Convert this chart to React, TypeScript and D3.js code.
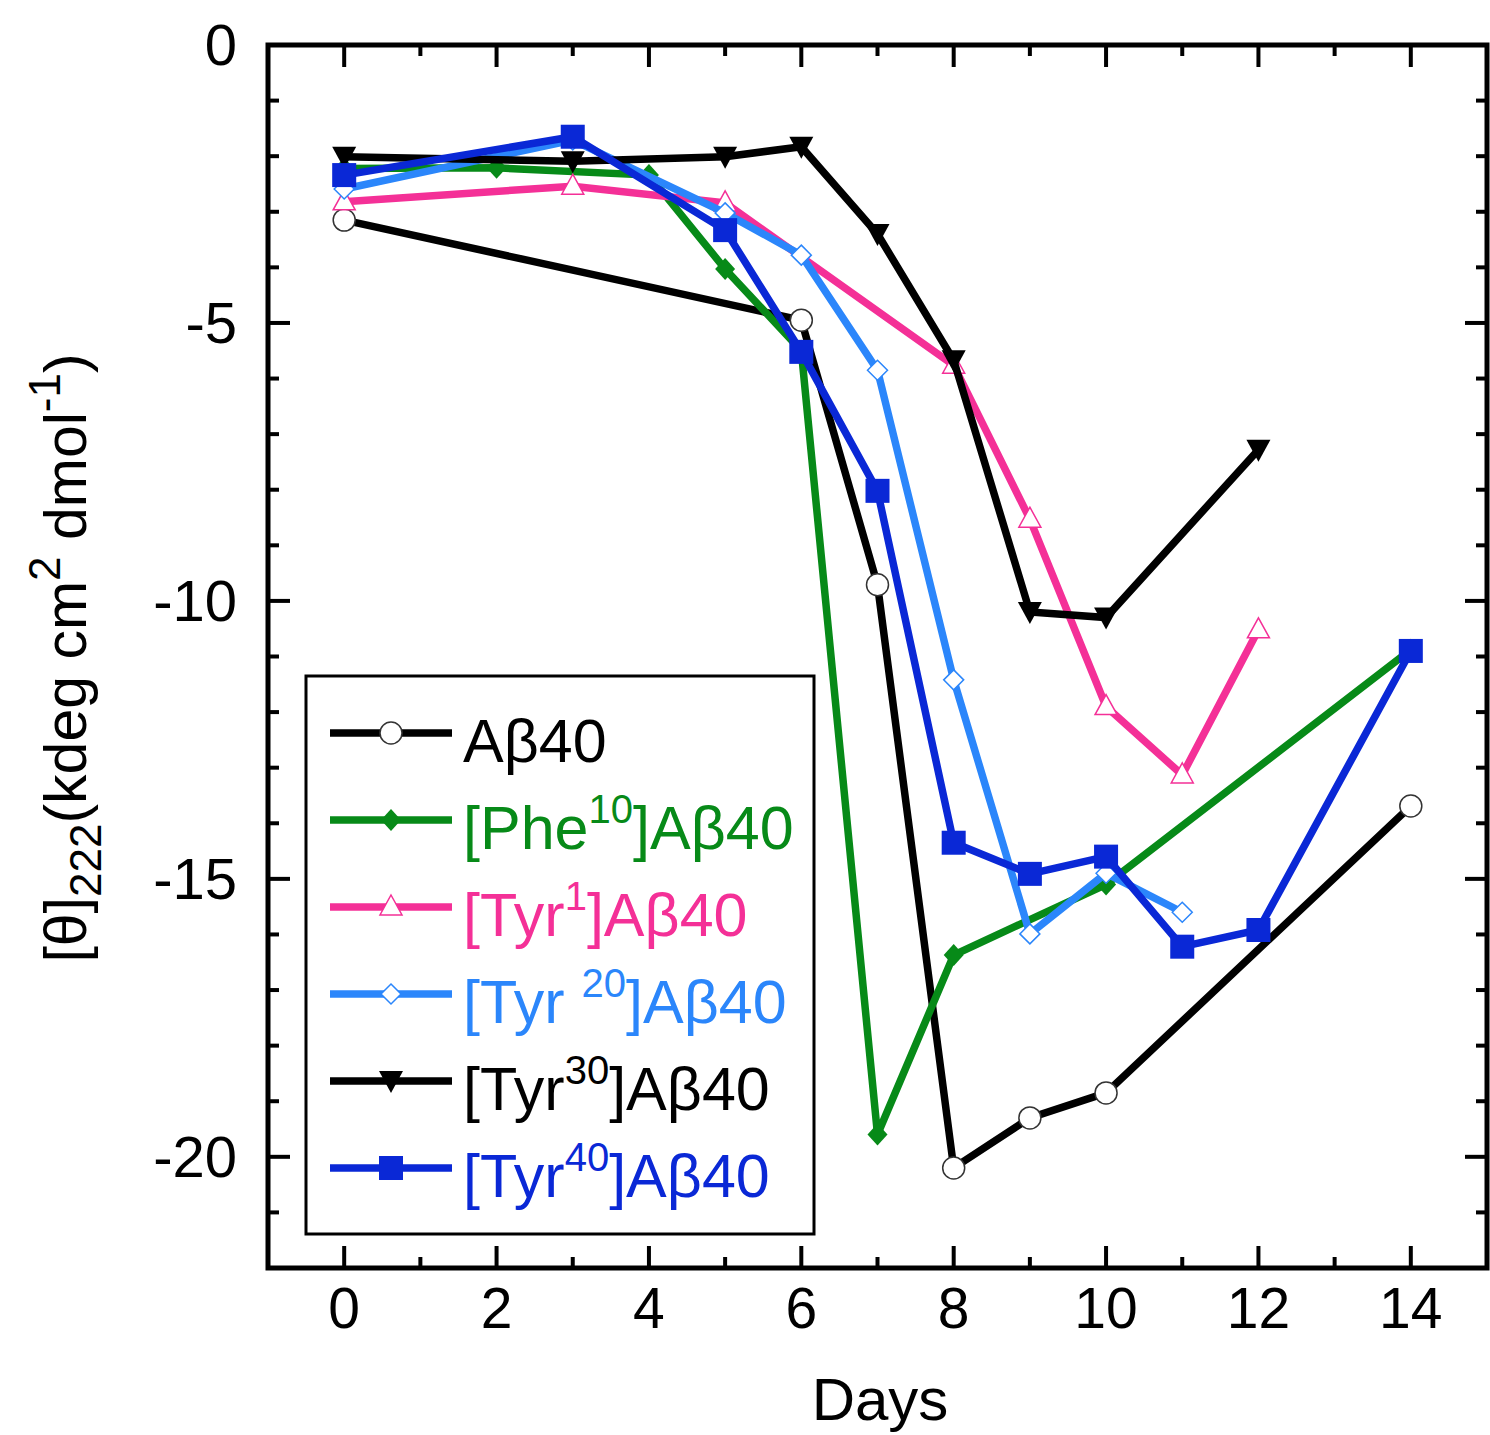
import React from "react";
import * as d3 from "d3";

const ab40Days = [0, 6, 7, 8, 9, 10, 14];
const ab40Vals = [-3.15, -4.95, -9.71, -20.2, -19.3, -18.85, -13.69];

const phe10Days = [0, 2, 4, 5, 6, 7, 8, 10, 14];
const phe10Vals = [-2.22, -2.21, -2.34, -4.03, -5.5, -19.6, -16.37, -15.1, -10.88];

const tyr1Days = [0, 3, 5, 8, 9, 10, 11, 12];
const tyr1Vals = [-2.82, -2.54, -2.84, -5.76, -8.53, -11.9, -13.13, -10.52];

const tyr20Days = [0, 3, 5, 6, 7, 8, 9, 10, 11];
const tyr20Vals = [-2.59, -1.71, -3.02, -3.78, -5.85, -11.42, -15.99, -14.9, -15.6];

const tyr30Days = [0, 3, 5, 6, 7, 8, 9, 10, 12];
const tyr30Vals = [-2.01, -2.09, -2.01, -1.83, -3.4, -5.67, -10.2, -10.3, -7.28];

const tyr40Days = [0, 3, 5, 6, 7, 8, 9, 10, 11, 12, 14];
const tyr40Vals = [-2.34, -1.65, -3.33, -5.52, -8.02, -14.35, -14.91, -14.6, -16.22, -15.92, -10.9];

const xTicks = [0, 2, 4, 6, 8, 10, 12, 14];
const xMinor = [-1, 1, 3, 5, 7, 9, 11, 13, 15];
const yTicks = [0, -5, -10, -15, -20];
const yMinor = [-1, -2, -3, -4, -6, -7, -8, -9, -11, -12, -13, -14, -16, -17, -18, -19, -21];

type Series = {
  pre: string;
  sup: string;
  post: string;
  color: string;
  marker: string;
  xs: number[];
  ys: number[];
};

const series: Series[] = [
  { pre: "Aβ40", sup: "", post: "", color: "#000000", marker: "circle", xs: ab40Days, ys: ab40Vals },
  { pre: "[Phe", sup: "10", post: "]Aβ40", color: "#078a18", marker: "diamondFilled", xs: phe10Days, ys: phe10Vals },
  { pre: "[Tyr", sup: "1", post: "]Aβ40", color: "#f43097", marker: "triangleOpen", xs: tyr1Days, ys: tyr1Vals },
  { pre: "[Tyr ", sup: "20", post: "]Aβ40", color: "#2b86fb", marker: "diamondOpen", xs: tyr20Days, ys: tyr20Vals },
  { pre: "[Tyr", sup: "30", post: "]Aβ40", color: "#000000", marker: "triangleDown", xs: tyr30Days, ys: tyr30Vals },
  { pre: "[Tyr", sup: "40", post: "]Aβ40", color: "#0a28d6", marker: "square", xs: tyr40Days, ys: tyr40Vals },
];

const W = 1490;
const H = 1435;
const L = 268, R = 1487, T = 45, B = 1268;
const FONT = "'Liberation Sans', Arial, Helvetica, sans-serif";

const x = d3.scaleLinear().domain([-1, 15]).range([L, R]);
const y = d3.scaleLinear().domain([0, -22]).range([T, B]);

function Marker({ type, cx, cy, color }: { type: string; cx: number; cy: number; color: string }) {
  switch (type) {
    case "circle":
      return <circle cx={cx} cy={cy} r={11} fill="#fff" stroke="#333" strokeWidth={1.5} />;
    case "diamondFilled":
      return <path d={`M${cx},${cy - 11}L${cx + 10},${cy}L${cx},${cy + 11}L${cx - 10},${cy}Z`} fill={color} />;
    case "diamondOpen":
      return <path d={`M${cx},${cy - 10}L${cx + 10},${cy}L${cx},${cy + 10}L${cx - 10},${cy}Z`} fill="#fff" stroke={color} strokeWidth={1.5} />;
    case "triangleOpen":
      return <path d={`M${cx},${cy - 12}L${cx + 11},${cy + 8}L${cx - 11},${cy + 8}Z`} fill="#fff" stroke={color} strokeWidth={1.5} />;
    case "triangleDown":
      return <path d={`M${cx - 12},${cy - 10}L${cx + 12},${cy - 10}L${cx},${cy + 12}Z`} fill={color} />;
    case "square":
      return <rect x={cx - 12} y={cy - 12} width={24} height={24} fill={color} />;
    default:
      return null;
  }
}

export default function App() {
  const line = d3.line<[number, number]>().x((d) => x(d[0])).y((d) => y(d[1]));
  const legX = 306, legY = 676, legW = 508, legH = 558;
  const rowY = (i: number) => 733 + i * 87;

  return (
    <svg width={W} height={H} style={{ position: "absolute", left: 0, top: 0, background: "#fff" }} fontFamily={FONT}>
      <rect x={0} y={0} width={W} height={H} fill="#fff" />
      {series.map((s, i) => {
        const pts: [number, number][] = s.xs.map((d, j) => [d, s.ys[j]]);
        return (
          <g key={i}>
            <path d={line(pts) || ""} fill="none" stroke={s.color} strokeWidth={7.5} strokeLinejoin="miter" />
            {pts.map((p, j) => (
              <Marker key={j} type={s.marker} cx={x(p[0])} cy={y(p[1])} color={s.color} />
            ))}
          </g>
        );
      })}

      {xTicks.map((t) => (
        <g key={"xt" + t}>
          <line x1={x(t)} x2={x(t)} y1={B} y2={B - 22} stroke="#000" strokeWidth={4} />
          <line x1={x(t)} x2={x(t)} y1={T} y2={T + 22} stroke="#000" strokeWidth={4} />
          <text x={x(t)} y={B + 60} fontSize={57} textAnchor="middle">{t}</text>
        </g>
      ))}
      {xMinor.map((t) => (
        <g key={"xm" + t}>
          <line x1={x(t)} x2={x(t)} y1={B} y2={B - 11} stroke="#000" strokeWidth={4} />
          <line x1={x(t)} x2={x(t)} y1={T} y2={T + 11} stroke="#000" strokeWidth={4} />
        </g>
      ))}
      {yTicks.map((t) => (
        <g key={"yt" + t}>
          <line x1={L} x2={L + 22} y1={y(t)} y2={y(t)} stroke="#000" strokeWidth={4} />
          <line x1={R} x2={R - 22} y1={y(t)} y2={y(t)} stroke="#000" strokeWidth={4} />
          <text x={237} y={y(t) + 20} fontSize={58} textAnchor="end">{t === 0 ? "0" : String(t)}</text>
        </g>
      ))}
      {yMinor.map((t) => (
        <g key={"ym" + t}>
          <line x1={L} x2={L + 11} y1={y(t)} y2={y(t)} stroke="#000" strokeWidth={4} />
          <line x1={R} x2={R - 11} y1={y(t)} y2={y(t)} stroke="#000" strokeWidth={4} />
        </g>
      ))}
      <rect x={L} y={T} width={R - L} height={B - T} fill="none" stroke="#000" strokeWidth={5} />

      <rect x={legX} y={legY} width={legW} height={legH} fill="#fff" stroke="#000" strokeWidth={3} />
      {series.map((s, i) => (
        <g key={"lg" + i}>
          <line x1={330} x2={452} y1={rowY(i)} y2={rowY(i)} stroke={s.color} strokeWidth={7.5} />
          <Marker type={s.marker} cx={391} cy={rowY(i)} color={s.color} />
          <text x={463} y={rowY(i) + 29} fontSize={61} fill={s.color}>
            {s.pre}
            {s.sup ? <tspan fontSize={40} dy={-26}>{s.sup}</tspan> : null}
            {s.post ? <tspan dy={s.sup ? 26 : 0}>{s.post}</tspan> : null}
          </text>
        </g>
      ))}

      <text x={880} y={1420} fontSize={60} textAnchor="middle">Days</text>
      <text transform={`translate(86,658) rotate(-90)`} fontSize={59} textAnchor="middle">
        [θ]<tspan fontSize={44} dy={15}>222</tspan>
        <tspan dy={-15}>(kdeg cm</tspan>
        <tspan fontSize={44} dy={-26}>2</tspan>
        <tspan dy={26}> dmol</tspan>
        <tspan fontSize={44} dy={-26}>-1</tspan>
        <tspan dy={26}>)</tspan>
      </text>
    </svg>
  );
}
